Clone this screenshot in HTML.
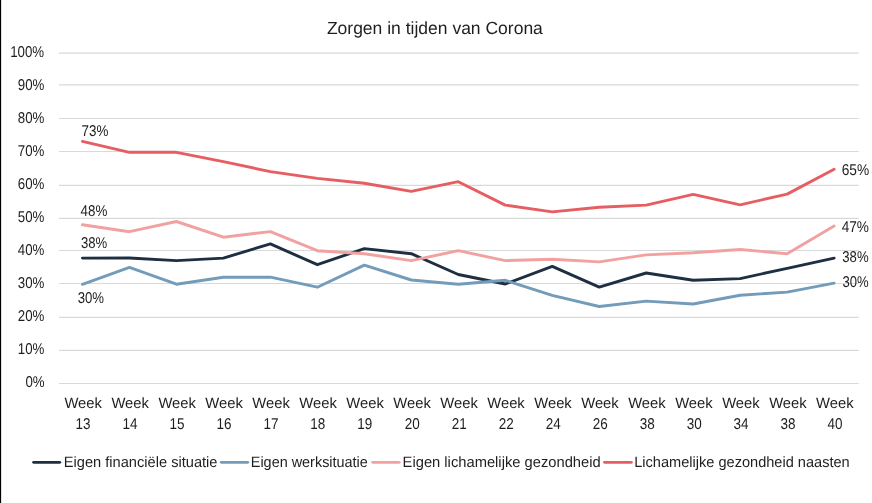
<!DOCTYPE html>
<html><head><meta charset="utf-8"><title>Zorgen in tijden van Corona</title><style>
html,body{margin:0;padding:0;background:#fff;}
body{width:872px;height:503px;overflow:hidden;position:relative;}
svg{position:absolute;left:0;top:0;display:block;will-change:transform;}
text{font-family:"Liberation Sans",sans-serif;fill:#1e1e1e;text-rendering:geometricPrecision;}
</style></head><body>
<svg width="872" height="503" viewBox="0 0 872 503">
<rect x="0" y="0" width="872" height="503" fill="#fff"/>
<rect x="0" y="0" width="1.12" height="503" fill="#000"/>
<g stroke="#d9d9d9" stroke-width="1.2">
<line x1="59" y1="53.2" x2="858.7" y2="53.2"/>
<line x1="59" y1="84.9" x2="858.7" y2="84.9"/>
<line x1="59" y1="118.5" x2="858.7" y2="118.5"/>
<line x1="59" y1="151.5" x2="858.7" y2="151.5"/>
<line x1="59" y1="185.3" x2="858.7" y2="185.3"/>
<line x1="59" y1="218.3" x2="858.7" y2="218.3"/>
<line x1="59" y1="250.5" x2="858.7" y2="250.5"/>
<line x1="59" y1="283.5" x2="858.7" y2="283.5"/>
<line x1="59" y1="317.3" x2="858.7" y2="317.3"/>
<line x1="59" y1="350.3" x2="858.7" y2="350.3"/>
<line x1="59" y1="383.5" x2="858.7" y2="383.5"/>
</g>
<g fill="none" stroke-width="2.9" stroke-linejoin="round" stroke-linecap="round">
<polyline stroke="#1e2f42" points="82.45,258.1 129.43,258.0 176.41,260.6 223.39,258.1 270.37,243.9 317.35,264.7 364.33,248.6 411.31,253.7 458.29,274.5 505.27,284.0 552.25,266.4 599.23,287.1 646.21,273.0 693.19,280.3 740.17,278.6 787.15,268.3 834.13,258.1"/>
<polyline stroke="#739bba" points="82.45,284.3 129.43,267.4 176.41,284.2 223.39,277.2 270.37,277.2 317.35,287.2 364.33,265.1 411.31,280.0 458.29,284.2 505.27,280.3 552.25,295.3 599.23,306.5 646.21,301.1 693.19,304.0 740.17,295.2 787.15,292.1 834.13,283.2"/>
<polyline stroke="#f2a1a1" points="82.45,224.8 129.43,231.7 176.41,221.5 223.39,237.2 270.37,231.6 317.35,250.7 364.33,253.7 411.31,260.6 458.29,250.7 505.27,260.6 552.25,259.2 599.23,261.9 646.21,254.9 693.19,252.8 740.17,249.5 787.15,253.7 834.13,226.0"/>
<polyline stroke="#e65e62" points="82.45,141.4 129.43,152.3 176.41,152.3 223.39,161.7 270.37,171.6 317.35,178.4 364.33,183.3 411.31,191.4 458.29,181.7 505.27,205.1 552.25,211.9 599.23,207.2 646.21,205.1 693.19,194.4 740.17,204.8 787.15,194.1 834.13,169.2"/>
</g>
<line x1="33.650000000000006" y1="462.35" x2="59.75" y2="462.35" stroke="#1e2f42" stroke-width="2.9" stroke-linecap="round"/>
<line x1="221.25" y1="462.35" x2="247.75" y2="462.35" stroke="#739bba" stroke-width="2.9" stroke-linecap="round"/>
<line x1="372.7" y1="462.35" x2="399.15000000000003" y2="462.35" stroke="#f2a1a1" stroke-width="2.9" stroke-linecap="round"/>
<line x1="604.5500000000001" y1="462.35" x2="631.3499999999999" y2="462.35" stroke="#e65e62" stroke-width="2.9" stroke-linecap="round"/>
<text x="326.90" y="33.70" font-size="17.5" textLength="215.97" lengthAdjust="spacingAndGlyphs">Zorgen in tijden van Corona</text>
<text x="10.16" y="56.60" font-size="15.6" textLength="33.95" lengthAdjust="spacingAndGlyphs">100%</text>
<text x="17.82" y="89.67" font-size="15.6" textLength="26.57" lengthAdjust="spacingAndGlyphs">90%</text>
<text x="17.82" y="122.74" font-size="15.6" textLength="26.57" lengthAdjust="spacingAndGlyphs">80%</text>
<text x="17.82" y="155.81" font-size="15.6" textLength="26.57" lengthAdjust="spacingAndGlyphs">70%</text>
<text x="17.82" y="188.88" font-size="15.6" textLength="26.57" lengthAdjust="spacingAndGlyphs">60%</text>
<text x="17.82" y="221.95" font-size="15.6" textLength="26.57" lengthAdjust="spacingAndGlyphs">50%</text>
<text x="17.82" y="255.02" font-size="15.6" textLength="26.57" lengthAdjust="spacingAndGlyphs">40%</text>
<text x="17.82" y="288.09" font-size="15.6" textLength="26.57" lengthAdjust="spacingAndGlyphs">30%</text>
<text x="17.82" y="321.16" font-size="15.6" textLength="26.57" lengthAdjust="spacingAndGlyphs">20%</text>
<text x="17.82" y="354.23" font-size="15.6" textLength="26.57" lengthAdjust="spacingAndGlyphs">10%</text>
<text x="25.48" y="387.30" font-size="15.6" textLength="19.19" lengthAdjust="spacingAndGlyphs">0%</text>
<text x="64.44" y="407.60" font-size="15" textLength="37.51" lengthAdjust="spacingAndGlyphs">Week</text>
<text x="75.46" y="428.80" font-size="15.6" textLength="15.02" lengthAdjust="spacingAndGlyphs">13</text>
<text x="111.41" y="407.60" font-size="15" textLength="37.51" lengthAdjust="spacingAndGlyphs">Week</text>
<text x="122.44" y="428.80" font-size="15.6" textLength="15.02" lengthAdjust="spacingAndGlyphs">14</text>
<text x="158.39" y="407.60" font-size="15" textLength="37.51" lengthAdjust="spacingAndGlyphs">Week</text>
<text x="169.42" y="428.80" font-size="15.6" textLength="15.02" lengthAdjust="spacingAndGlyphs">15</text>
<text x="205.37" y="407.60" font-size="15" textLength="37.51" lengthAdjust="spacingAndGlyphs">Week</text>
<text x="216.40" y="428.80" font-size="15.6" textLength="15.02" lengthAdjust="spacingAndGlyphs">16</text>
<text x="252.35" y="407.60" font-size="15" textLength="37.51" lengthAdjust="spacingAndGlyphs">Week</text>
<text x="263.38" y="428.80" font-size="15.6" textLength="15.02" lengthAdjust="spacingAndGlyphs">17</text>
<text x="299.33" y="407.60" font-size="15" textLength="37.51" lengthAdjust="spacingAndGlyphs">Week</text>
<text x="310.36" y="428.80" font-size="15.6" textLength="15.02" lengthAdjust="spacingAndGlyphs">18</text>
<text x="346.31" y="407.60" font-size="15" textLength="37.51" lengthAdjust="spacingAndGlyphs">Week</text>
<text x="357.34" y="428.80" font-size="15.6" textLength="15.02" lengthAdjust="spacingAndGlyphs">19</text>
<text x="393.29" y="407.60" font-size="15" textLength="37.51" lengthAdjust="spacingAndGlyphs">Week</text>
<text x="404.75" y="428.80" font-size="15.6" textLength="15.02" lengthAdjust="spacingAndGlyphs">20</text>
<text x="440.27" y="407.60" font-size="15" textLength="37.51" lengthAdjust="spacingAndGlyphs">Week</text>
<text x="451.73" y="428.80" font-size="15.6" textLength="15.02" lengthAdjust="spacingAndGlyphs">21</text>
<text x="487.25" y="407.60" font-size="15" textLength="37.51" lengthAdjust="spacingAndGlyphs">Week</text>
<text x="498.71" y="428.80" font-size="15.6" textLength="15.02" lengthAdjust="spacingAndGlyphs">22</text>
<text x="534.24" y="407.60" font-size="15" textLength="37.51" lengthAdjust="spacingAndGlyphs">Week</text>
<text x="545.69" y="428.80" font-size="15.6" textLength="15.02" lengthAdjust="spacingAndGlyphs">24</text>
<text x="581.22" y="407.60" font-size="15" textLength="37.51" lengthAdjust="spacingAndGlyphs">Week</text>
<text x="592.67" y="428.80" font-size="15.6" textLength="15.02" lengthAdjust="spacingAndGlyphs">26</text>
<text x="628.20" y="407.60" font-size="15" textLength="37.51" lengthAdjust="spacingAndGlyphs">Week</text>
<text x="639.65" y="428.80" font-size="15.6" textLength="15.02" lengthAdjust="spacingAndGlyphs">38</text>
<text x="675.18" y="407.60" font-size="15" textLength="37.51" lengthAdjust="spacingAndGlyphs">Week</text>
<text x="686.63" y="428.80" font-size="15.6" textLength="15.02" lengthAdjust="spacingAndGlyphs">30</text>
<text x="722.15" y="407.60" font-size="15" textLength="37.51" lengthAdjust="spacingAndGlyphs">Week</text>
<text x="733.61" y="428.80" font-size="15.6" textLength="15.02" lengthAdjust="spacingAndGlyphs">34</text>
<text x="769.13" y="407.60" font-size="15" textLength="37.51" lengthAdjust="spacingAndGlyphs">Week</text>
<text x="780.59" y="428.80" font-size="15.6" textLength="15.02" lengthAdjust="spacingAndGlyphs">38</text>
<text x="816.12" y="407.60" font-size="15" textLength="37.51" lengthAdjust="spacingAndGlyphs">Week</text>
<text x="827.57" y="428.80" font-size="15.6" textLength="15.02" lengthAdjust="spacingAndGlyphs">40</text>
<text x="81.60" y="135.80" font-size="15.6" textLength="26.79" lengthAdjust="spacingAndGlyphs">73%</text>
<text x="80.50" y="216.20" font-size="15.6" textLength="26.79" lengthAdjust="spacingAndGlyphs">48%</text>
<text x="81.00" y="248.10" font-size="15.6" textLength="26.28" lengthAdjust="spacingAndGlyphs">38%</text>
<text x="77.70" y="303.40" font-size="15.6" textLength="26.38" lengthAdjust="spacingAndGlyphs">30%</text>
<text x="841.70" y="174.80" font-size="15.6" textLength="27.49" lengthAdjust="spacingAndGlyphs">65%</text>
<text x="841.70" y="231.50" font-size="15.6" textLength="27.29" lengthAdjust="spacingAndGlyphs">47%</text>
<text x="842.30" y="262.30" font-size="15.6" textLength="26.28" lengthAdjust="spacingAndGlyphs">38%</text>
<text x="842.40" y="286.90" font-size="15.6" textLength="26.18" lengthAdjust="spacingAndGlyphs">30%</text>
<text x="63.82" y="466.70" font-size="15" textLength="153.67" lengthAdjust="spacingAndGlyphs">Eigen financiële situatie</text>
<text x="250.79" y="466.70" font-size="15" textLength="117.06" lengthAdjust="spacingAndGlyphs">Eigen werksituatie</text>
<text x="402.62" y="466.70" font-size="15" textLength="198.06" lengthAdjust="spacingAndGlyphs">Eigen lichamelijke gezondheid</text>
<text x="634.23" y="466.70" font-size="15" textLength="215.48" lengthAdjust="spacingAndGlyphs">Lichamelijke gezondheid naasten</text>
</svg>
</body></html>
